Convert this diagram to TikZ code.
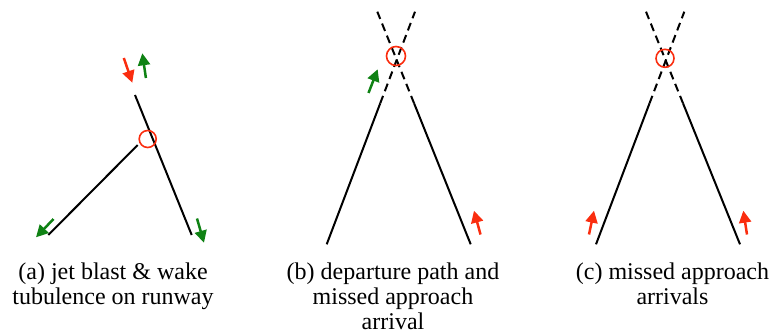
\documentclass[tikz,border=0pt]{standalone}
\usepackage{fontspec}
\setmainfont{Liberation Serif}
\newfontfamily\capfont{Liberation Serif}
\usetikzlibrary{calc,arrows.meta}
\definecolor{hotred}{RGB}{250,45,15}
\definecolor{grassgreen}{RGB}{15,130,20}

\begin{document}
\begin{tikzpicture}[x=1pt, y=-1pt,
		track/.style={line width=2pt},
		ext/.style={track, dash pattern=on 8pt off 5pt},
		conflict/.style={circle, draw=hotred, line width=1.6pt, minimum size=18pt, inner sep=0pt},
		redarr/.style={-{Triangle[length=12pt,width=12pt]}, draw=hotred, fill=hotred, line width=2.5pt},
		greenarr/.style={-{Triangle[length=12pt,width=12pt]}, draw=grassgreen, fill=grassgreen, line width=2.5pt},
		caption/.style={font=\capfont\fontsize{24}{25}\selectfont, align=center, anchor=north, inner sep=0pt}]
		%%%%% START %%%%%
		\useasboundingbox (0, 0) rectangle (771, 334);
		
		% (a) runway with taxiway joining it
		\coordinate (aTop) at (135, 95);
		\coordinate (aBot) at (191.7, 235);
		\coordinate (aJoin) at (137.7, 145);
		\coordinate (aEnd) at (48.3, 235);
		\draw[track] (aTop) -- (aBot);
		\draw[track] (aJoin) -- (aEnd);
		\node[conflict, minimum size=17pt] (aHot) at (147.7, 139) {};
		
		\draw[redarr] (123.8, 58) -- (132.3, 82.7);
		\draw[greenarr] (145.9, 78) -- (142.3, 53.3);
		\draw[greenarr] (53.5, 219) -- (36, 237.3);
		\draw[greenarr] (197, 218.5) -- (204, 242.7);
		
		\node[caption] (aText) at (113, 263) {(a) jet blast \& wake\\tubulence on runway};
		
		% (b) crossing paths
		\coordinate (bL) at (326.7, 244.3);
		\coordinate (bLtop) at (415, 11.7);
		\coordinate (bR) at (470.7, 244.3);
		\coordinate (bRtop) at (377.3, 11.7);
		\draw[track] (bL) -- ($(bL)!0.606!(bLtop)$);
		\draw[ext] ($(bL)!0.606!(bLtop)$) -- (bLtop);
		\draw[track] (bR) -- ($(bR)!0.606!(bRtop)$);
		\draw[ext] ($(bR)!0.606!(bRtop)$) -- (bRtop);
		\node[conflict, minimum size=19pt] (bHot) at (396, 56) {};
		
		\draw[greenarr] (368.5, 93) -- (377.7, 69.3);
		\draw[redarr] (480.5, 234.5) -- (474, 210.7);
		
		\node[caption] (bText) at (393, 263) {(b) departure path and\\missed approach\\arrival};
		
		% (c) crossing paths
		\coordinate (cL) at (596, 244.3);
		\coordinate (cLtop) at (684.3, 11.7);
		\coordinate (cR) at (740, 244.3);
		\coordinate (cRtop) at (646, 11.7);
		\draw[track] (cL) -- ($(cL)!0.606!(cLtop)$);
		\draw[ext] ($(cL)!0.606!(cLtop)$) -- (cLtop);
		\draw[track] (cR) -- ($(cR)!0.606!(cRtop)$);
		\draw[ext] ($(cR)!0.606!(cRtop)$) -- (cRtop);
		\node[conflict] (cHot) at (665, 58.3) {};
		
		\draw[redarr] (589, 234.5) -- (594, 210.7);
		\draw[redarr] (747, 234.5) -- (743.3, 210.7);
		
		\node[caption] (cText) at (672.5, 263) {(c) missed approach\\arrivals};
		%%%%% END %%%%%
\end{tikzpicture}
\end{document}
